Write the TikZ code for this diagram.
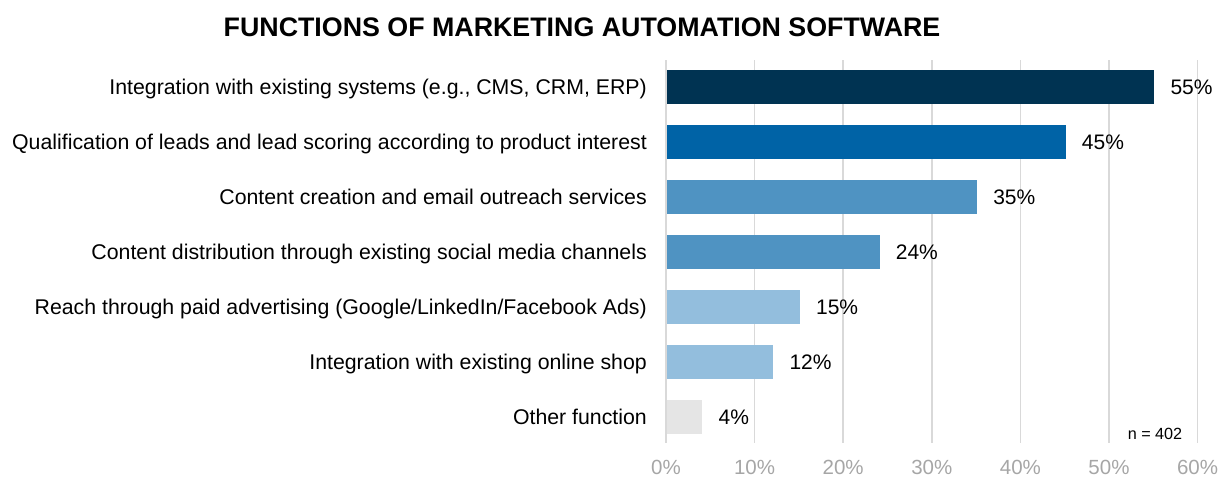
\documentclass[tikz,border=0pt]{standalone}
\usepackage{fontspec}
\setmainfont{Liberation Sans}
\definecolor{cA}{HTML}{003352}
\definecolor{cB}{HTML}{0063A6}
\definecolor{cC}{HTML}{4F93C2}
\definecolor{cD}{HTML}{93BEDD}
\definecolor{cE}{HTML}{E5E5E5}
\definecolor{gridc}{HTML}{D9D9D9}
\definecolor{tickc}{HTML}{A6A6A6}
\begin{document}
\begin{tikzpicture}[x=1pt,y=-1pt,
  gridline/.style={draw=gridc,line width=1.6pt},
  ticklabel/.style={text=tickc,font=\fontsize{20.5}{24}\selectfont,inner sep=0pt,anchor=base},
  catlabel/.style={anchor=base east,font=\fontsize{21.3}{25}\selectfont,inner sep=0pt},
  vallabel/.style={anchor=base west,font=\fontsize{21}{25}\selectfont,inner sep=0pt},
  barbox/.style={anchor=west,minimum height=34pt,inner sep=0pt,outer sep=0pt}]
\useasboundingbox (0,0) rectangle (1221,477);
\node[font=\bfseries\fontsize{26.8}{30}\selectfont,inner sep=0pt] (title) at (582,27) {FUNCTIONS OF MARKETING AUTOMATION SOFTWARE};
\foreach \i in {0,...,6}{
  \draw[gridline] ({666+88.6*\i},60) -- ({666+88.6*\i},443);
  \pgfmathtruncatemacro{\pct}{10*\i}
  \node[ticklabel] (tick\i) at ({666+88.6*\i},474) {\pct\%};
}
\foreach \k/\v/\c/\t in {1/55/cA/{Integration with existing systems (e.g., CMS, CRM, ERP)},
  2/45/cB/{Qualification of leads and lead scoring according to product interest},
  3/35/cC/{Content creation and email outreach services},
  4/24/cC/{Content distribution through existing social media channels},
  5/15/cD/{Reach through paid advertising (Google/LinkedIn/Facebook Ads)},
  6/12/cD/{Integration with existing online shop},
  7/4/cE/{Other function}}{
  \node[barbox,fill=\c,minimum width={8.86pt*\v}] (bar\k) at (667,{86.5+55*(\k-1)}) {};
  \node[catlabel] (lab\k) at (647,{94.2+55*(\k-1)}) {\t};
  \node[vallabel] (val\k) at ([xshift=16pt,yshift=-7.6pt]bar\k.east) {\v\%};
}
\node[font=\fontsize{16.2}{19}\selectfont,inner sep=0pt,anchor=base] (n) at (1155,439) {n = 402};
\end{tikzpicture}
\end{document}
